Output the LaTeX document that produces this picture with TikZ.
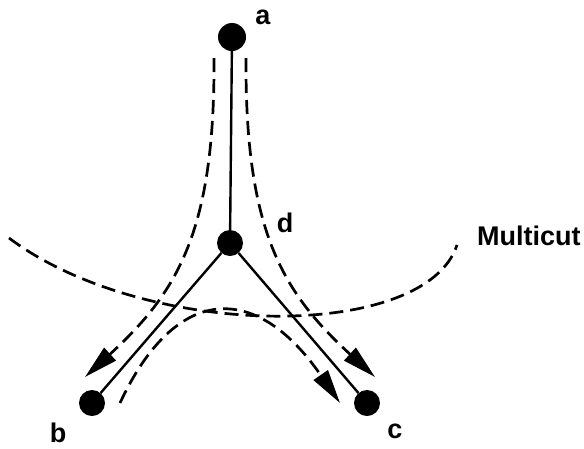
\documentclass[tikz,border=0pt]{standalone}
\usepackage{fontspec}
\setmainfont{Liberation Sans}
\usetikzlibrary{arrows.meta}
\begin{document}
\begin{tikzpicture}[x=1pt,y=-1pt,
  vertex/.style={circle,fill=black,inner sep=0pt,minimum size=26pt},
  lbl/.style={inner sep=0pt,anchor=base,font=\fontsize{27}{27}\selectfont\bfseries},
  edge/.style={line width=2.4pt},
  flow/.style={line width=2.7pt,dash pattern=on 14pt off 7pt,
    -{Triangle[length=34pt,width=17pt]}},
  cut/.style={line width=2.7pt,dash pattern=on 14pt off 7pt}]
\useasboundingbox (0,0) rectangle (584,448);
\node[vertex,minimum size=28pt] (a) at (232,37) {};
\node[vertex] (d) at (230,243) {};
\node[vertex] (b) at (92,403) {};
\node[vertex] (c) at (367,403) {};
\node[lbl] (la) at (263,24) {a};
\node[lbl] (ld) at (285,232) {d};
\node[lbl] (lb) at (58,442) {b};
\node[lbl] (lc) at (395,438) {c};
\node[lbl,anchor=base west] (lm) at (477,245) {Multicut};
\draw[edge] (a) -- (d);
\draw[edge] (d) -- (b);
\draw[edge] (d) -- (c);
\coordinate (s1) at (214,58);
\coordinate (e1) at (85,377);
\coordinate (s2) at (246,58);
\coordinate (e2) at (375,377);
\coordinate (s3) at (120,403);
\coordinate (e3) at (340,403);
\coordinate (m1) at (9,238);
\coordinate (m2) at (457,245);
\draw[flow] (s1) .. controls (215,230) and (178,292) .. (e1);
\draw[flow] (s2) .. controls (245,230) and (282,292) .. (e2);
\draw[flow] (s3) .. controls (175,285) and (255,280) .. (e3);
\draw[cut] (m1) .. controls (145,340) and (425,342) .. (m2);
\end{tikzpicture}
\end{document}
